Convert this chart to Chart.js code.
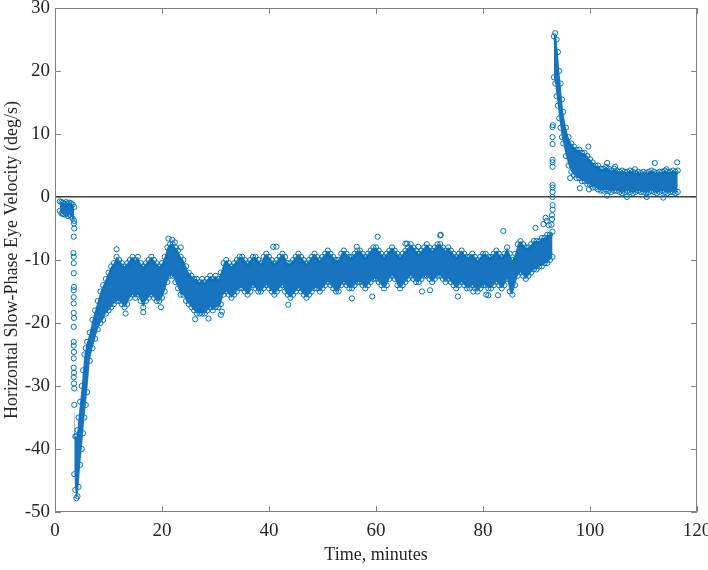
<!DOCTYPE html>
<html>
<head>
<meta charset="utf-8">
<script src="https://cdn.jsdelivr.net/npm/chart.js@4/dist/chart.umd.min.js"></script>
<style>
  html, body { margin: 0; padding: 0; background: #fff; }
</style>
</head>
<body>
<canvas id="velocityChart" width="708" height="570"></canvas>
<script>
// pre-stimulus cluster (minutes, deg/s)
const earlyTime  = [0.9, 1.2, 1.5, 1.8, 2.1, 2.4, 2.7, 3.0, 3.3, 3.6];
const earlyUpper = [-0.7, -0.8, -0.9, -1.1, -0.8, -1.0, -0.9, -1.0, -1.2, -1.6];
const earlyLower = [-2.2, -2.6, -2.7, -2.8, -2.6, -3.0, -2.8, -3.1, -3.4, -3.8];

// main negative phase, upper / lower edge of the point cloud
const mainTime = [
  3.6, 3.8, 4.0, 4.2, 4.4, 4.7, 5.0, 5.25, 5.5, 5.75,
  6.0, 6.5, 7.0, 7.5, 8.0, 8.5, 9.0, 9.5, 10.0, 10.5,
  11, 11.5, 12, 12.5, 13, 13.5, 14, 14.5, 15, 15.5,
  16, 16.5, 17, 17.5, 18, 18.5, 19, 19.5, 20, 20.5,
  21, 21.5, 22, 22.5, 23, 23.5, 24, 24.5, 25, 25.5,
  26, 26.5, 27, 27.5, 28, 28.5, 29, 29.5, 30, 30.5,
  31, 31.5, 32, 32.5, 33, 33.5, 34, 34.5, 35, 35.5,
  36, 36.5, 37, 37.5, 38, 38.5, 39, 39.5, 40, 40.5,
  41, 41.5, 42, 42.5, 43, 43.5, 44, 44.5, 45, 45.5,
  46, 46.5, 47, 47.5, 48, 48.5, 49, 49.5, 50, 50.5,
  51, 51.5, 52, 52.5, 53, 53.5, 54, 54.5, 55, 55.5,
  56, 56.5, 57, 57.5, 58, 58.5, 59, 59.5, 60, 60.5,
  61, 61.5, 62, 62.5, 63, 63.5, 64, 64.5, 65, 65.5,
  66, 66.5, 67, 67.5, 68, 68.5, 69, 69.5, 70, 70.5,
  71, 71.5, 72, 72.5, 73, 73.5, 74, 74.5, 75, 75.5,
  76, 76.5, 77, 77.5, 78, 78.5, 79, 79.5, 80, 80.5,
  81, 81.5, 82, 82.5, 83, 83.5, 84, 84.5, 85, 85.5,
  86, 86.5, 87, 87.5, 88, 88.5, 89, 89.5, 90, 90.5,
  91, 91.5, 92, 92.5, 93
];
const mainUpper = [
  -33, -38, -38, -37, -35, -32.5, -30, -27.5, -25, -24,
  -23, -21.5, -19.5, -18, -16.5, -15, -14, -13, -12, -11,
  -10.5, -9.5, -10, -10.5, -11, -10.5, -10, -9.5, -10, -9.5,
  -10.5, -11, -10.5, -10, -9.5, -10, -10.5, -11, -10.5, -9.5,
  -8, -7.5, -7.5, -8, -8.5, -9.5, -10, -11, -12, -12.5,
  -13, -13, -13.5, -13, -13.5, -13, -12.5, -13, -12.5, -13,
  -12, -10.5, -10, -10.5, -11, -10.5, -10, -9.5, -9.5, -10,
  -10.5, -10, -9.5, -9.5, -10, -10.5, -9.5, -9, -9.5, -10,
  -10.5, -10, -9.5, -9, -9.5, -10.5, -10.5, -10, -9.5, -9,
  -9.5, -10, -10.5, -10, -9.5, -9, -9.5, -10, -9.5, -9,
  -8.5, -9, -9.5, -10, -10, -9, -8.5, -9, -9.5, -9.5,
  -9, -8.5, -8.5, -9, -9.5, -9, -8.5, -8, -8, -8.5,
  -9, -9.5, -9, -8.5, -8, -8.5, -9, -9.5, -9, -8.5,
  -8, -7.5, -8, -8.5, -9, -8.5, -8, -7.5, -8, -8.5,
  -8, -7.5, -7.5, -8, -8.5, -8, -8.5, -9, -9.5, -9,
  -8.5, -9, -9.5, -9.5, -9, -9.5, -10, -9.5, -9, -9,
  -9.5, -9.5, -9, -8.5, -9, -9.5, -9, -8, -9, -10,
  -9, -7.5, -7, -7.5, -8, -8, -7.5, -7, -7, -7,
  -6.5, -6.5, -6, -6, -5.5
];
const mainLower = [
  -44, -46.5, -47.8, -47.5, -46, -42.5, -40, -37.5, -35, -33,
  -31, -26, -24, -22.5, -21, -20, -19.5, -18.5, -18, -17.5,
  -17, -16.5, -16.5, -17, -17.5, -17, -16, -15.5, -16, -15.5,
  -16.5, -17.5, -16.5, -16, -15.5, -16, -16.5, -16.5, -16, -15,
  -13.5, -12.5, -12.5, -13.5, -14.5, -15.5, -15.5, -16.5, -17, -17.5,
  -18, -18.5, -18.5, -18.5, -18.5, -18, -17.5, -18, -17.5, -17.5,
  -17, -15.5, -15, -15.5, -16, -15.5, -15, -14.5, -14.5, -15,
  -15.5, -15, -14, -14.5, -15, -15, -14.5, -14, -14.5, -15,
  -15.5, -15, -14.5, -14, -15, -15.5, -16, -15.5, -15, -14.5,
  -15, -15.5, -16, -15.5, -15, -14.5, -14.5, -15, -14.5, -14,
  -13.5, -14, -14.5, -15, -15, -14, -13.5, -14, -14.5, -14.5,
  -14, -13.5, -13.5, -14, -14.5, -14, -13.5, -13, -13, -13.5,
  -14, -14.5, -14, -13, -12.5, -13, -14, -14.5, -14, -13.5,
  -13, -12.5, -13, -13.5, -13.5, -13, -12.5, -12.5, -13, -13.5,
  -13, -12.5, -12.5, -13, -13.5, -13, -13.5, -14, -14.5, -14,
  -13.5, -14, -14.5, -14.5, -14, -14.5, -15, -14.5, -14, -14,
  -14.5, -14.5, -14, -13.5, -14, -14.5, -14, -13, -15, -15.5,
  -14, -12.5, -12, -12.5, -13, -12.5, -12, -11.5, -11.5, -11,
  -11, -10.5, -10.5, -10, -9.5
];

// after the reversal
const postTime = [
  93.25, 93.5, 93.75, 94.0, 94.25, 94.5, 94.75, 95.0, 95.5, 96.0,
  96.5, 97.0, 97.5, 98.0, 98.5, 99.0, 99.5, 100.0, 100.5, 101.0,
  101.5, 102.0, 102.5, 103.0, 103.5, 104.0, 104.5, 105.0, 105.5, 106.0,
  106.5, 107.0, 107.5, 108.0, 108.5, 109.0, 109.5, 110.0, 110.5, 111.0,
  111.5, 112.0, 112.5, 113.0, 113.5, 114.0, 114.5, 115.0, 115.5, 116.0,
  116.4
];
const postUpper = [
  25.5, 26, 25, 23, 20, 18, 15.5, 13.5, 11, 9.5,
  8.5, 8, 7.5, 7.5, 7, 7, 6.5, 6, 5.5, 5,
  5, 4.5, 4.5, 4.8, 4.5, 4.2, 4.5, 4.2, 4, 4.2,
  4, 4, 4.2, 4, 3.8, 4, 3.8, 4, 3.8, 4,
  4.2, 4, 3.8, 4, 4, 4.2, 4, 4, 4.2, 4,
  4.2
];
const postLower = [
  19, 18, 16, 14.5, 12.5, 11, 9.5, 8.5, 6.5, 5,
  4, 3.5, 3, 3, 2.5, 2.5, 2, 2, 1.5, 1.5,
  1.2, 1, 1, 1.2, 1, 0.8, 1, 1, 0.8, 0.6,
  0.8, 1, 0.8, 0.6, 0.8, 1, 0.8, 0.8, 0.6, 0.8,
  1, 0.8, 0.6, 0.8, 1, 0.8, 0.6, 0.8, 0.8, 0.6,
  0.8
];

// isolated samples: the two fast transitions and stray points
const strayTime = [
  3.55, 3.6, 3.5, 3.45, 3.5, 3.5, 3.5, 3.55, 3.5, 3.5,
  3.5, 3.5, 3.55, 3.5, 3.5, 3.5, 3.55, 3.5, 3.5, 3.55,
  3.5, 3.55, 3.6,
  91.7, 91.9, 92.3, 92.8, 92.9, 92.9, 93, 93, 93, 93,
  93, 93, 93, 93, 93, 93, 93, 93, 93.05,
  11.5, 21.2, 21.9, 22.4, 23.5, 13.2, 16.5, 19.8, 26.2, 28.7,
  31, 31.2, 40.8, 41.4, 43.6, 55.5, 56.4, 59.3, 60.3, 65.5,
  65.8, 67.9, 68.6, 70.1, 72, 72.1, 75.3, 78.2, 80.6, 81,
  82.8, 83.8, 89.8, 91.3,
  96.3, 98.1, 99.7, 99.8, 103.2, 104.7, 108.4, 112.1, 114.3, 116.3,
  103.2, 106.9, 110.6, 113.7
];
const strayVel = [
  -4.2, -5, -6.3, -8.9, -9.5, -10.5, -12.1, -14.3, -14.8, -15.9,
  -16.9, -18.4, -19.2, -20.6, -23, -23.6, -24.6, -25.6, -27.1, -27.9,
  -28.6, -29.6, -30.4,
  -3.3, -3.8, -4.5, -4.4, -3.5, -2.9, -2, -1.3, 0, 0.8,
  1.5, 1.9, 4.8, 5.5, 5.9, 8.4, 9.5, 11.1, 11.4,
  -8.3, -6.6, -6.8, -7.2, -8, -18.5, -18.3, -17.5, -19.4, -19.3,
  -18.7, -18.2, -7.9, -7.9, -17.1, -16.1, -7.9, -15.8, -6.3, -7.4,
  -7.4, -7.9, -15, -14.8, -6.1, -6, -15.8, -15, -15.5, -15.6,
  -15.6, -5.4, -4.9, -4.3,
  3, 1.4, 8, 1.2, 5.4, 4.8, 4.4, 5.4, 4.4, 5.5,
  0.2, 0, 0, -0.1
];

const BLUE = '#0072BD';
const BAND = 'rgb(24, 116, 190)';
const SERIF = "'Liberation Serif', 'Times New Roman', serif";

function toPoints(times, values) {
  return times.map((t, i) => ({ x: t, y: values[i] }));
}

function edge(times, values, fillNext) {
  return {
    data: toPoints(times, values),
    showLine: true,
    borderColor: 'rgba(0,0,0,0)',
    backgroundColor: BAND,
    fill: fillNext ? '+1' : false,
    pointRadius: 2.6,
    pointBorderWidth: 1,
    pointBorderColor: BLUE,
    pointBackgroundColor: 'rgba(0,0,0,0)'
  };
}

// box, inward ticks on all four sides (MATLAB style)
const boxTicks = {
  id: 'boxTicks',
  afterDraw(chart) {
    const { ctx, chartArea: a, scales: { x, y } } = chart;
    const len = 6;
    ctx.save();
    ctx.strokeStyle = '#808080';
    ctx.lineWidth = 1;
    ctx.beginPath();
    ctx.rect(a.left + 0.5, a.top + 0.5, a.right - a.left - 1, a.bottom - a.top - 1);
    x.ticks.forEach(t => {
      const px = Math.round(x.getPixelForValue(t.value)) + 0.5;
      ctx.moveTo(px, a.bottom);
      ctx.lineTo(px, a.bottom - len);
      ctx.moveTo(px, a.top);
      ctx.lineTo(px, a.top + len);
    });
    y.ticks.forEach(t => {
      const py = Math.round(y.getPixelForValue(t.value)) + 0.5;
      ctx.moveTo(a.left, py);
      ctx.lineTo(a.left + len, py);
      ctx.moveTo(a.right, py);
      ctx.lineTo(a.right - len, py);
    });
    ctx.stroke();
    ctx.restore();
  }
};

new Chart(document.getElementById('velocityChart').getContext('2d'), {
  type: 'line',
  data: {
    datasets: [
      edge(earlyTime, earlyUpper, true),
      edge(earlyTime, earlyLower, false),
      edge(mainTime, mainUpper, true),
      edge(mainTime, mainLower, false),
      edge(postTime, postUpper, true),
      edge(postTime, postLower, false),
      {
        data: toPoints(strayTime, strayVel),
        showLine: false,
        pointRadius: 2.6,
        pointBorderWidth: 1,
        pointBorderColor: BLUE,
        pointBackgroundColor: 'rgba(0,0,0,0)'
      }
    ]
  },
  options: {
    responsive: false,
    animation: false,
    events: [],
    layout: { padding: { top: 8, right: 11, left: 0, bottom: 0 } },
    plugins: {
      legend: { display: false },
      tooltip: { enabled: false }
    },
    scales: {
      x: {
        type: 'linear',
        min: 0,
        max: 120,
        border: { display: false },
        grid: { display: false, drawTicks: false },
        ticks: {
          stepSize: 20,
          padding: 8,
          color: '#262626',
          font: { family: SERIF, size: 19 }
        },
        title: {
          display: true,
          text: 'Time, minutes',
          color: '#262626',
          font: { family: SERIF, size: 18 },
          padding: { top: 0, bottom: 4 }
        },
        afterFit(scale) {
          scale.height = 58;
          scale.paddingLeft = 0;
          scale.paddingRight = 0;
        }
      },
      y: {
        min: -50,
        max: 30,
        border: { display: false },
        grid: {
          drawTicks: false,
          lineWidth: 1.5,
          color: c => (c.tick && c.tick.value === 0 ? '#404040' : 'rgba(0,0,0,0)')
        },
        ticks: {
          stepSize: 10,
          padding: 5,
          color: '#262626',
          font: { family: SERIF, size: 19 }
        },
        title: {
          display: true,
          text: 'Horizontal Slow-Phase Eye Velocity (deg/s)',
          color: '#262626',
          font: { family: SERIF, size: 18 },
          padding: { top: 1, bottom: 0 }
        },
        afterFit(scale) {
          scale.width = 55;
          scale.paddingTop = 0;
          scale.paddingBottom = 0;
        }
      }
    }
  },
  plugins: [boxTicks]
});
</script>
</body>
</html>
